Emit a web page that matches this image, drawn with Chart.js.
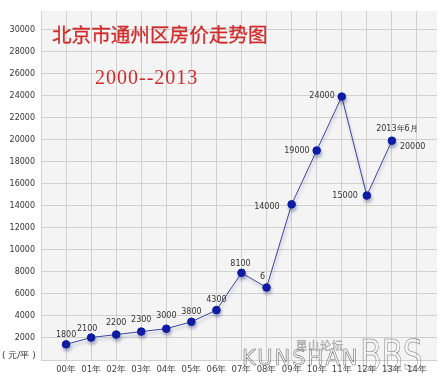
<!DOCTYPE html>
<html>
<head>
<meta charset="utf-8">
<script src="https://cdn.jsdelivr.net/npm/chart.js@4"></script>
<style>
html,body{margin:0;padding:0;background:#fff;}
#wrap{position:relative;width:446px;height:382px;overflow:hidden;}
canvas{position:absolute;left:0;top:0;}
.t1{position:absolute;left:52px;top:24px;font:19.6px "Noto Sans CJK SC";color:#d02a2a;line-height:20px;white-space:nowrap;-webkit-text-stroke:0.3px #d02a2a;}
.t2{position:absolute;left:95px;top:66px;font:20px "Liberation Serif";color:#d02a2a;letter-spacing:1px;line-height:22px;white-space:nowrap;}
.unit{position:absolute;left:2px;top:349px;font:9px "DejaVu Sans";color:#333;white-space:nowrap;}
.wm1{position:absolute;left:296px;top:337px;font:11px "Noto Sans CJK SC";color:transparent;-webkit-text-stroke:0.5px #999;letter-spacing:1px;white-space:nowrap;}
.wm2{position:absolute;left:242px;top:346px;font:21px "DejaVu Sans";color:transparent;-webkit-text-stroke:0.6px #777;letter-spacing:2px;white-space:nowrap;}
.wm3{position:absolute;left:360px;top:334px;font:42px "DejaVu Sans";color:transparent;-webkit-text-stroke:0.6px #777;line-height:44px;white-space:nowrap;transform:scaleX(0.75);transform-origin:left top;}
</style>
</head>
<body>
<div id="wrap">
<canvas id="c" width="446" height="382"></canvas>
<div class="t1">北京市通州区房价走势图</div>
<div class="t2">2000--2013</div>
<div class="unit">( 元/平 )</div>
<div class="wm1">昆山论坛</div>
<div class="wm2">KUNSHAN</div>
<div class="wm3">BBS</div>
</div>
<script>
// Tick labels (x axis categories)
const categories = ['00年','01年','02年','03年','04年','05年','06年','07年','08年','09年','10年','11年','12年','13年','14年'];
// Plotted values as drawn in the picture (元/平)
const prices = [1420, 2040, 2310, 2580, 2840, 3470, 4530, 7910, 6580, 14130, 19020, 23910, 14930, 19910];
// Annotation texts as written on the picture
const pointLabels = ['1800','2100','2200','2300','3000','3800','4300','8100','6','14000','19000','24000','15000','20000'];
const extraLabel = '2013年6月';
const yTickStep = 2000;

const labelOffsets = [
  [0,-9,'center'],[-4,-9,'center'],[0,-12,'center'],[0,-12,'center'],[0,-13,'center'],[0,-10,'center'],[0,-10,'center'],
  [-1,-9,'center'],[-4,-11,'center'],[-12,3,'right'],[-7,0,'right'],[-7,-1,'right'],[-9,0,'right'],[8,6,'left']
];

const bgPlugin = {
  id:'bg',
  beforeDraw(chart){
    const {ctx, chartArea:a} = chart;
    ctx.save();
    ctx.fillStyle = '#f4f4f4';
    ctx.fillRect(a.left, a.top, a.right-a.left, a.bottom-a.top);
    ctx.restore();
  }
};
const shadowPlugin = {
  id:'shadow',
  beforeDatasetDraw(chart){
    const ctx = chart.ctx;
    ctx.save();
    ctx.shadowColor = 'rgba(60,70,130,0.35)';
    ctx.shadowBlur = 3;
    ctx.shadowOffsetX = 1;
    ctx.shadowOffsetY = 3;
  },
  afterDatasetDraw(chart){ chart.ctx.restore(); }
};
const labelPlugin = {
  id:'labels',
  afterDatasetsDraw(chart){
    const {ctx} = chart;
    const meta = chart.getDatasetMeta(0);
    ctx.save();
    ctx.font = '8px "DejaVu Sans"';
    ctx.fillStyle = '#333';
    ctx.textBaseline = 'middle';
    meta.data.forEach((p, i) => {
      const o = labelOffsets[i];
      ctx.textAlign = o[2];
      ctx.fillText(pointLabels[i], p.x + o[0], p.y + o[1]);
    });
    const last = meta.data[meta.data.length-1];
    ctx.textAlign = 'center';
    ctx.fillText(extraLabel, last.x + 5, last.y - 12);
    ctx.restore();
  }
};

new Chart(document.getElementById('c'), {
  type:'line',
  data:{
    datasets:[{
      data: prices.map((v,i)=>({x:i, y:v})),
      borderColor:'#3a46a0',
      borderWidth:1,
      pointBackgroundColor:'#0c1aa6',
      pointBorderColor:'#0c1aa6',
      pointRadius:3.8,
      tension:0
    }]
  },
  options:{
    responsive:false,
    animation:false,
    layout:{padding:{top:3, right:9, left:0, bottom:0}},
    plugins:{legend:{display:false}, tooltip:{enabled:false}},
    scales:{
      x:{
        type:'linear', min:-1, max:14.8,
        afterBuildTicks(s){ s.ticks = []; for(let v=-1; v<=14; v++) s.ticks.push({value:v}); },
        afterFit(s){ s.height = 22; },
        border:{display:false},
        grid:{color:'#d0d0d0', drawTicks:false, lineWidth:1},
        ticks:{autoSkip:false, maxRotation:0, padding:5, color:'#444', font:{family:'DejaVu Sans', size:8.5},
          callback:(v)=> v>=0 ? categories[v] : ''}
      },
      y:{
        type:'linear', min:0, max:31700,
        afterBuildTicks(s){ s.ticks = []; for(let v=0; v<=30000; v+=yTickStep) s.ticks.push({value:v}); },
        afterFit(s){ s.width = 41; },
        border:{display:false},
        grid:{color:'#d0d0d0', drawTicks:false, lineWidth:1},
        ticks:{padding:6, color:'#333', font:{family:'DejaVu Sans', size:8},
          callback:(v)=> v===0 ? '' : String(v)}
      }
    }
  },
  plugins:[bgPlugin, shadowPlugin, labelPlugin]
});
</script>
</body>
</html>
